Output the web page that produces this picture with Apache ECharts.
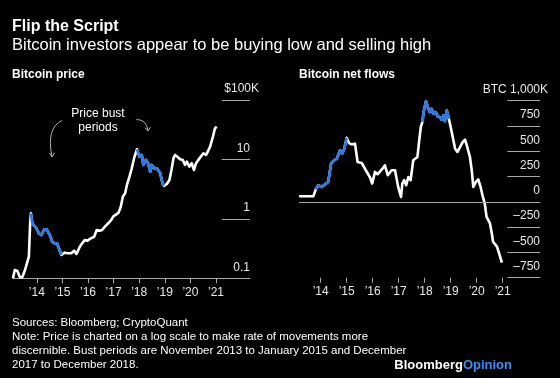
<!DOCTYPE html>
<html>
<head>
<meta charset="utf-8">
<script src="https://cdn.jsdelivr.net/npm/echarts@6/dist/echarts.min.js"></script>
<style>
  html, body { margin: 0; padding: 0; background: #000; }
  #chart { width: 560px; height: 378px; }
</style>
</head>
<body>
<div id="chart"></div>
<script>
// ---- Data ----
const yearTicks = [2014, 2015, 2016, 2017, 2018, 2019, 2020, 2021];
const yearLabels = ['\u201914', '\u201915', '\u201916', '\u201917', '\u201918', '\u201919', '\u201920', '\u201921'];

const priceTicks = [0.1, 1, 10, 100];
const priceTickLabels = ['0.1', '1', '10', '$100K'];

const flowTicks = [-750, -500, -250, 0, 250, 500, 750, 1000];
const flowTickLabels = ['\u2013750', '\u2013500', '\u2013250', '0', '250', '500', '750', 'BTC 1,000K'];

// Bust periods (decimal years): Nov 2013 - Jan 2015, Dec 2017 - Dec 2018
const bustStart = [2013.76, 2017.90];
const bustEnd = [2015.005, 2018.98];

// Bitcoin price, $ thousands (log scale)
const priceYears = [2013.07, 2013.14, 2013.24, 2013.34, 2013.43, 2013.53, 2013.59, 2013.69, 2013.74, 2013.77, 2013.82, 2013.89, 2013.98,
  2014.08, 2014.18, 2014.29, 2014.38, 2014.51, 2014.60, 2014.70, 2014.79, 2014.86, 2014.96,
  2015.09, 2015.22, 2015.35, 2015.46, 2015.55, 2015.61, 2015.68, 2015.77, 2015.88, 2015.98,
  2016.11, 2016.24, 2016.34, 2016.46, 2016.55, 2016.66, 2016.79, 2016.91, 2016.99,
  2017.06, 2017.19, 2017.28, 2017.36, 2017.45, 2017.52, 2017.62, 2017.71, 2017.80, 2017.91,
  2018.01, 2018.10, 2018.16, 2018.26, 2018.34, 2018.43, 2018.49, 2018.58, 2018.69, 2018.82, 2018.91, 2018.97,
  2019.08, 2019.18, 2019.26, 2019.34, 2019.40, 2019.49, 2019.60, 2019.70, 2019.79, 2019.86, 2019.96,
  2020.05, 2020.14, 2020.22, 2020.31, 2020.38, 2020.51, 2020.61, 2020.66, 2020.77, 2020.88, 2020.96,
  2021.03];
const priceValues = [0.1, 0.138, 0.133, 0.104, 0.104, 0.134, 0.142, 0.231, 0.853, 1.24, 0.853, 0.897, 0.695,
  0.573, 0.536, 0.668, 0.668, 0.536, 0.413, 0.388, 0.388, 0.320, 0.247,
  0.270, 0.264, 0.264, 0.292, 0.257, 0.264, 0.340, 0.388, 0.442, 0.430,
  0.471, 0.501, 0.650, 0.632, 0.650, 0.740, 0.843, 0.958, 1.10,
  1.09, 1.26, 1.60, 2.36, 2.70, 3.72, 5.13, 7.11, 10.5, 14.8,
  11.1, 11.9, 8.09, 9.82, 8.84, 6.23, 8.09, 7.11, 7.11, 5.86, 3.97, 3.58,
  3.87, 4.52, 6.65, 10.5, 11.9, 11.1, 10.1, 9.82, 8.09, 9.19, 7.57,
  8.63, 6.65, 8.63, 9.82, 9.19, 12.7, 11.9, 13.0, 16.4, 24.2, 33.5,
  35.6];

// Bitcoin net flows, thousand BTC
const flowYears = [2013.17, 2013.72, 2013.81, 2013.91,
  2014.04, 2014.17, 2014.29, 2014.40, 2014.48, 2014.62, 2014.74, 2014.83, 2014.91,
  2015.00, 2015.09, 2015.19, 2015.32, 2015.42, 2015.58, 2015.70, 2015.81, 2015.90, 2015.98,
  2016.09, 2016.19, 2016.32, 2016.41, 2016.47, 2016.58, 2016.73, 2016.86, 2016.98,
  2017.09, 2017.14, 2017.21, 2017.29, 2017.37, 2017.46, 2017.56, 2017.63, 2017.72, 2017.79, 2017.85, 2017.91, 2017.97,
  2018.05, 2018.14, 2018.20, 2018.27, 2018.33, 2018.43, 2018.50, 2018.59, 2018.65, 2018.72, 2018.78, 2018.85, 2018.93,
  2019.00, 2019.08, 2019.17, 2019.26, 2019.36, 2019.46, 2019.55, 2019.62, 2019.68, 2019.74, 2019.81, 2019.87, 2019.97,
  2020.06, 2020.15, 2020.22, 2020.31, 2020.38, 2020.44, 2020.51, 2020.57, 2020.63, 2020.70, 2020.78, 2020.88, 2020.97];
const flowValues = [56, 56, 122, 164,
  148, 174, 197, 378, 404, 427, 509, 477, 526,
  634, 581, 568, 575, 394, 384, 329, 280, 240, 181,
  296, 273, 312, 339, 361, 263, 312, 312, 148,
  49, 181, 214, 164, 246, 214, 411, 394, 443, 608, 739, 788, 903,
  995, 920, 887, 920, 871, 887, 844, 837, 812, 854, 798, 903, 821,
  739, 640, 526, 493, 542, 591, 615, 558, 575, 443, 312, 148, 197,
  221, 148, 66, -16, -148, -164, -213, -296, -394, -404, -443, -525, -601];

// ---- Helpers ----
function inBust(y) {
  for (let i = 0; i < bustStart.length; i++) {
    if (y >= bustStart[i] && y <= bustEnd[i]) return true;
  }
  return false;
}
function pairs(xs, ys) { return xs.map((x, i) => [x, ys[i]]); }
function bustPairs(xs, ys) { return xs.map((x, i) => [x, inBust(x) ? ys[i] : '-']); }
function yearFmt(v) {
  const i = yearTicks.indexOf(Math.round(v));
  return i >= 0 ? yearLabels[i] : '';
}
function priceFmt(v) {
  let idx = -1;
  priceTicks.forEach((t, i) => { if (Math.abs(Math.log10(v) - Math.log10(t)) < 1e-6) idx = i; });
  if (idx < 0) return '';
  return idx === priceTicks.length - 1 ? priceTickLabels[idx] : priceTickLabels[idx] + '{sp| }';
}
function flowFmt(v) {
  const idx = flowTicks.indexOf(Math.round(v));
  if (idx < 0) return '';
  return idx === flowTicks.length - 1 ? flowTickLabels[idx] : flowTickLabels[idx] + '{sp| }';
}

const FONT = '"Liberation Sans", Arial, Helvetica, sans-serif';
const WHITE = '#ffffff';
const BLUE = '#2779e6';
const GRID_COL = '#a8a8a8';
const LABEL_COL = '#e8e8e8';

const xAxisCommon = {
  type: 'value',
  splitLine: { show: false },
  axisTick: { show: true, customValues: yearTicks, length: 5, inside: false, lineStyle: { color: GRID_COL, width: 1 } },
  axisLabel: { customValues: yearTicks, formatter: yearFmt, color: LABEL_COL, fontFamily: FONT, fontSize: 12, margin: 8 }
};

const chart = echarts.init(document.getElementById('chart'), null, { renderer: 'canvas' });

const option = {
  backgroundColor: '#000000',
  animation: false,
  grid: [
    { left: 13, top: 100, width: 237, height: 178.3 },      // price lines
    { left: 221.7, top: 100, width: 28.3, height: 178.3 },  // price labels
    { left: 299.1, top: 100.7, width: 240.2, height: 177 }, // flow lines
    { left: 507.3, top: 100.7, width: 32.7, height: 177 }   // flow labels
  ],
  xAxis: [
    Object.assign({}, xAxisCommon, {
      gridIndex: 0, min: 2013.07, max: 2022.328,
      axisLine: { show: true, onZero: false, lineStyle: { color: GRID_COL, width: 1 } }
    }),
    { gridIndex: 1, type: 'value', show: false, min: 0, max: 1 },
    Object.assign({}, xAxisCommon, {
      gridIndex: 2, min: 2013.17, max: 2022.408,
      axisLine: { show: false, onZero: false }
    }),
    { gridIndex: 3, type: 'value', show: false, min: 0, max: 1 }
  ],
  yAxis: [
    { gridIndex: 0, type: 'log', logBase: 10, min: 0.1, max: 100, show: false },
    {
      gridIndex: 1, type: 'log', logBase: 10, min: 0.1, max: 100, position: 'right',
      axisLine: { show: false }, axisTick: { show: false },
      splitLine: { show: true, lineStyle: { color: GRID_COL, width: 1 } },
      axisLabel: {
        inside: true, margin: -9, formatter: priceFmt, color: LABEL_COL,
        fontFamily: FONT, fontSize: 12, verticalAlign: 'bottom', lineHeight: 14, padding: [0, 0, 4, 0],
        rich: { sp: { width: 9, fontSize: 12 } }
      }
    },
    { gridIndex: 2, type: 'value', min: -750, max: 1000, interval: 250, show: false },
    {
      gridIndex: 3, type: 'value', min: -750, max: 1000, interval: 250, position: 'right',
      axisLine: { show: false }, axisTick: { show: false },
      splitLine: { show: true, lineStyle: { color: GRID_COL, width: 1 } },
      axisLabel: {
        inside: true, margin: -8, formatter: flowFmt, color: LABEL_COL,
        fontFamily: FONT, fontSize: 12, verticalAlign: 'bottom', lineHeight: 14, padding: [0, 0, 4, 0],
        rich: { sp: { width: 8, fontSize: 12 } }
      }
    }
  ],
  series: [
    {
      type: 'line', xAxisIndex: 0, yAxisIndex: 0, data: pairs(priceYears, priceValues),
      showSymbol: false, lineStyle: { color: WHITE, width: 2.6, join: 'round' }, z: 3
    },
    {
      type: 'line', xAxisIndex: 0, yAxisIndex: 0, data: bustPairs(priceYears, priceValues),
      showSymbol: false, connectNulls: false, lineStyle: { color: BLUE, width: 2.6, join: 'round' }, z: 4
    },
    {
      type: 'line', xAxisIndex: 2, yAxisIndex: 2, data: pairs(flowYears, flowValues),
      showSymbol: false, lineStyle: { color: WHITE, width: 2.6, join: 'round' }, z: 3,
      markLine: {
        silent: true, symbol: 'none', label: { show: false },
        lineStyle: { color: GRID_COL, width: 1, type: 'solid' },
        data: [{ yAxis: 0 }]
      }
    },
    {
      type: 'line', xAxisIndex: 2, yAxisIndex: 2, data: bustPairs(flowYears, flowValues),
      showSymbol: false, connectNulls: false, lineStyle: { color: BLUE, width: 2.6, join: 'round' }, z: 4
    }
  ],
  graphic: [
    { type: 'text', x: 12, y: 26.5, style: { text: 'Flip the Script', fill: WHITE, font: 'bold 16px ' + FONT, align: 'left', verticalAlign: 'middle' } },
    { type: 'text', x: 12, y: 45.5, style: { text: 'Bitcoin investors appear to be buying low and selling high', fill: WHITE, font: '16.5px ' + FONT, align: 'left', verticalAlign: 'middle' } },
    { type: 'text', x: 12, y: 75, style: { text: 'Bitcoin price', fill: WHITE, font: 'bold 12px ' + FONT, align: 'left', verticalAlign: 'middle' } },
    { type: 'text', x: 299, y: 75, style: { text: 'Bitcoin net flows', fill: WHITE, font: 'bold 12px ' + FONT, align: 'left', verticalAlign: 'middle' } },
    { type: 'text', x: 98, y: 113.5, style: { text: 'Price bust', fill: WHITE, font: '12px ' + FONT, align: 'center', verticalAlign: 'middle' } },
    { type: 'text', x: 98, y: 127.5, style: { text: 'periods', fill: WHITE, font: '12px ' + FONT, align: 'center', verticalAlign: 'middle' } },
    { type: 'bezierCurve', shape: { x1: 62, y1: 120.5, cpx1: 46, cpy1: 128, x2: 52, y2: 156.5 }, style: { stroke: '#b0b0b0', lineWidth: 1, fill: null } },
    { type: 'polyline', shape: { points: [[49.3, 152.8], [52, 157], [54.6, 152.6]] }, style: { stroke: '#b0b0b0', lineWidth: 1, fill: null } },
    { type: 'bezierCurve', shape: { x1: 136.5, y1: 119.5, cpx1: 146.5, cpy1: 119.5, x2: 148, y2: 130.5 }, style: { stroke: '#b0b0b0', lineWidth: 1, fill: null } },
    { type: 'polyline', shape: { points: [[145.2, 127.6], [148, 131], [150.4, 127.2]] }, style: { stroke: '#b0b0b0', lineWidth: 1, fill: null } },
    { type: 'text', x: 12, y: 322.5, style: { text: 'Sources: Bloomberg; CryptoQuant', fill: WHITE, font: '11.5px ' + FONT, align: 'left', verticalAlign: 'middle' } },
    { type: 'text', x: 12, y: 336.8, style: { text: 'Note: Price is charted on a log scale to make rate of movements more', fill: WHITE, font: '11.5px ' + FONT, align: 'left', verticalAlign: 'middle' } },
    { type: 'text', x: 12, y: 351, style: { text: 'discernible. Bust periods are November 2013 to January 2015 and December', fill: WHITE, font: '11.5px ' + FONT, align: 'left', verticalAlign: 'middle' } },
    { type: 'text', x: 12, y: 365.2, style: { text: '2017 to December 2018.', fill: WHITE, font: '11.5px ' + FONT, align: 'left', verticalAlign: 'middle' } },
    {
      type: 'text', x: 512, y: 365, style: {
        text: '{a|Bloomberg}{b|Opinion}', align: 'right', verticalAlign: 'middle',
        font: 'bold 13px ' + FONT,
        rich: {
          a: { fill: WHITE, color: WHITE, fontFamily: FONT, fontWeight: 'bold', fontSize: 13 },
          b: { fill: '#3f8ef2', color: '#3f8ef2', fontFamily: FONT, fontWeight: 'bold', fontSize: 13 }
        }
      }
    }
  ]
};

chart.setOption(option);
</script>
</body>
</html>
